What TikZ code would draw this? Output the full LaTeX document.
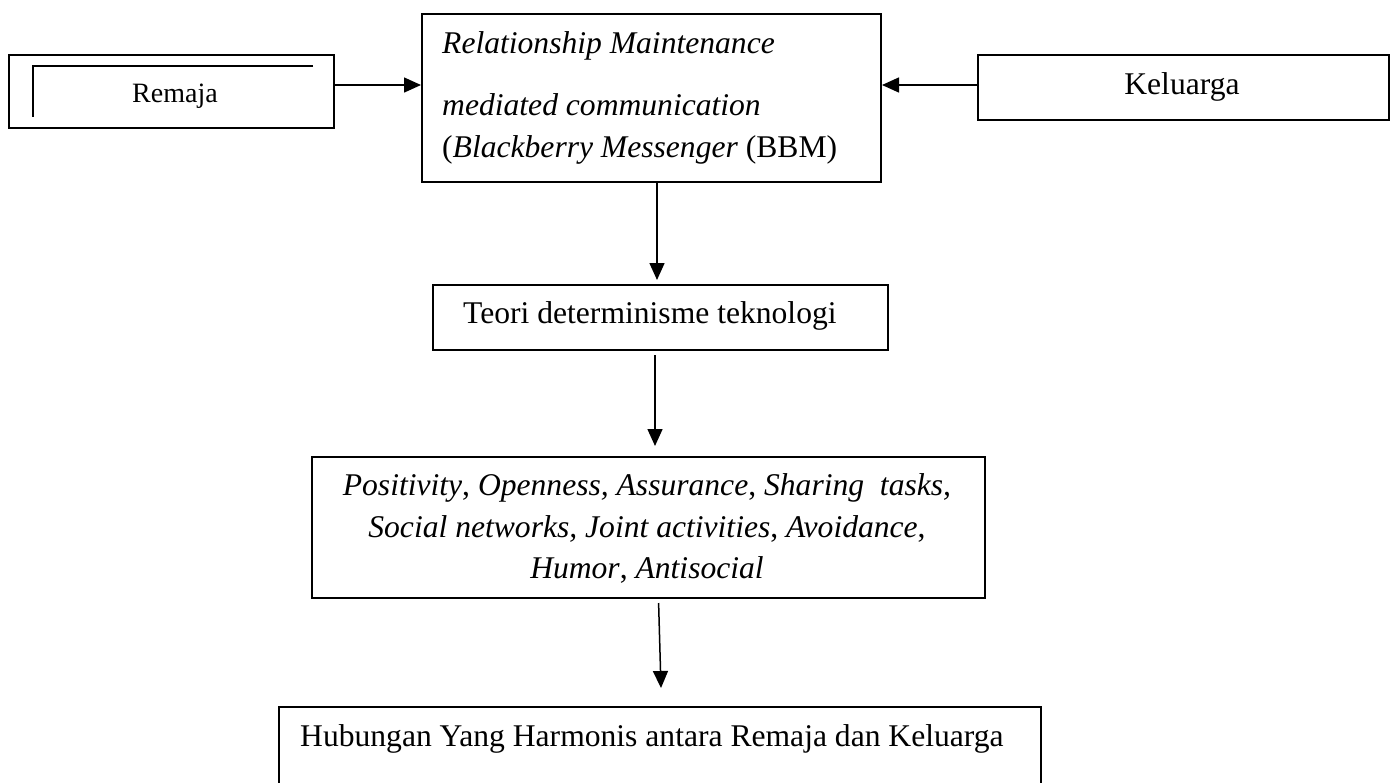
\documentclass[tikz,border=0pt]{standalone}
\usepackage{fontspec}
\setmainfont{Liberation Serif}
\usetikzlibrary{arrows.meta}
\begin{document}
\begin{tikzpicture}[x=1pt,y=-1pt,
  box/.style={draw, line width=2pt, inner sep=0pt},
  txt/.style={inner sep=0pt, font=\fontsize{31.6}{36}\selectfont},
  small/.style={inner sep=0pt, font=\fontsize{28}{32}\selectfont},
  arr/.style={-{Triangle[length=17pt,width=15pt]}, line width=1.5pt}]
\clip (0,0) rectangle (1395,782);
\fill[white] (0,0) rectangle (1395,782);
% boxes
\node[box, anchor=north west, minimum width=325pt, minimum height=73pt] (remaja) at (8,54) {};
\node[box, anchor=north west, minimum width=459pt, minimum height=168pt] (rm) at (421,13) {};
\node[box, anchor=north west, minimum width=411pt, minimum height=65pt] (kel) at (977,54) {};
\node[box, anchor=north west, minimum width=455pt, minimum height=65pt] (teori) at (432,284) {};
\node[box, anchor=north west, minimum width=673pt, minimum height=141pt] (pos) at (311,456) {};
\node[box, anchor=north west, minimum width=762pt, minimum height=120pt] (hub) at (278,706) {};
% inner line of Remaja box
\coordinate (ra) at (313,66);
\coordinate (rb) at (33,66);
\coordinate (rc) at (33,117);
\draw[line width=1.5pt] (ra) -- (rb) -- (rc);
% texts
\node[small, anchor=base] (tremaja) at (175,102) {Remaja};
\node[txt, anchor=base west] (t1) at (442,53) {\textit{Relationship Maintenance}};
\node[txt, anchor=base west] (t2) at (442,115) {\textit{mediated communication}};
\node[txt, anchor=base west] (t3) at (442,157) {(\textit{Blackberry Messenger} (BBM)};
\node[txt, anchor=base] (tkel) at (1182,94) {Keluarga};
\node[txt, anchor=base west] (tteori) at (463,323) {Teori determinisme teknologi};
\node[txt, anchor=base] (p1) at (647,495) {\textit{Positivity}, \textit{Openness, Assurance}, \textit{Sharing\ \ tasks,}};
\node[txt, anchor=base] (p2) at (647,537) {\textit{Social networks, Joint activities}, \textit{Avoidance},};
\node[txt, anchor=base] (p3) at (647,578) {\textit{Humor}, \textit{Antisocial}};
\node[txt, anchor=base west] (th) at (300,746) {Hubungan Yang Harmonis antara Remaja dan Keluarga};
% connectors
\draw[arr] (remaja.east |- 0,85) -- (rm.west |- 0,85);
\draw[arr] (kel.west |- 0,85) -- (rm.east |- 0,85);
\coordinate (a1s) at (657,181);
\coordinate (a1e) at (657,280);
\draw[arr] (a1s) -- (a1e);
\coordinate (a2s) at (655,355);
\coordinate (a2e) at (655,446);
\draw[arr] (a2s) -- (a2e);
\coordinate (a3s) at (658.6,603);
\coordinate (a3e) at (661,688);
\draw[arr] (a3s) -- (a3e);
\end{tikzpicture}
\end{document}
